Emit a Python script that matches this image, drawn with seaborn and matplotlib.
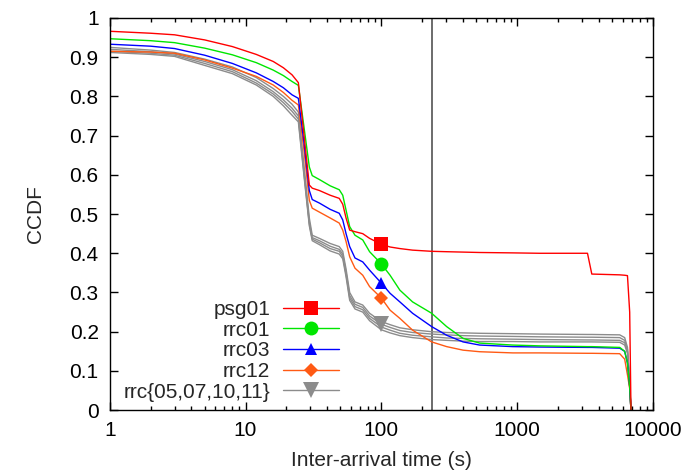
import numpy as np
import pandas as pd
import matplotlib
matplotlib.use("Agg")
import matplotlib.pyplot as plt
from matplotlib.lines import Line2D
import seaborn as sns

# ==========================
# Data
# ==========================
t = [1, 2, 3, 5, 8, 12, 16, 19, 22, 24.5, 27, 29.5, 31, 35, 42, 49, 52, 55,
     58.5, 64, 73, 82, 100, 116, 137, 170, 235, 303, 400, 530, 930, 1460,
     3300, 3550, 5700, 6200, 6500, 6750, 6900]

psg01 = [0.966, 0.961, 0.957, 0.944, 0.927, 0.907, 0.889, 0.873, 0.855, 0.835,
         0.699, 0.574, 0.566, 0.560, 0.548, 0.540, 0.525, 0.490, 0.459, 0.455,
         0.450, 0.438, 0.423, 0.416, 0.412, 0.408, 0.405, 0.404, 0.403, 0.402,
         0.401, 0.400, 0.400, 0.347, 0.345, 0.344, 0.343, 0.250, 0.0]
rrc01 = [0.947, 0.942, 0.937, 0.923, 0.906, 0.886, 0.867, 0.853, 0.838, 0.828,
         0.720, 0.620, 0.598, 0.588, 0.572, 0.562, 0.548, 0.510, 0.468, 0.446,
         0.434, 0.404, 0.373, 0.344, 0.306, 0.276, 0.247, 0.213, 0.183, 0.171,
         0.166, 0.164, 0.162, 0.162, 0.160, 0.150, 0.120, 0.060, 0.0]
rrc03 = [0.933, 0.928, 0.922, 0.905, 0.884, 0.860, 0.838, 0.822, 0.804, 0.795,
         0.680, 0.560, 0.537, 0.528, 0.512, 0.502, 0.485, 0.450, 0.417, 0.388,
         0.378, 0.357, 0.324, 0.298, 0.276, 0.247, 0.213, 0.191, 0.174, 0.166,
         0.162, 0.161, 0.160, 0.160, 0.158, 0.150, 0.120, 0.060, 0.0]
rrc12 = [0.915, 0.913, 0.910, 0.893, 0.872, 0.851, 0.829, 0.810, 0.790, 0.778,
         0.660, 0.535, 0.515, 0.505, 0.490, 0.477, 0.459, 0.430, 0.391, 0.362,
         0.344, 0.315, 0.286, 0.255, 0.234, 0.204, 0.174, 0.162, 0.153, 0.149,
         0.146, 0.146, 0.145, 0.145, 0.144, 0.130, 0.090, 0.055, 0.0]
rrc05 = [0.925, 0.918, 0.912, 0.895, 0.875, 0.848, 0.820, 0.800, 0.780, 0.760,
         0.620, 0.490, 0.446, 0.438, 0.425, 0.417, 0.405, 0.360, 0.300, 0.276,
         0.268, 0.247, 0.226, 0.218, 0.210, 0.205, 0.200, 0.198, 0.197, 0.196,
         0.195, 0.194, 0.193, 0.193, 0.192, 0.185, 0.160, 0.070, 0.0]
rrc07 = [0.920, 0.914, 0.908, 0.889, 0.868, 0.840, 0.812, 0.791, 0.770, 0.750,
         0.610, 0.480, 0.440, 0.432, 0.418, 0.410, 0.398, 0.352, 0.292, 0.270,
         0.262, 0.240, 0.219, 0.211, 0.203, 0.198, 0.194, 0.192, 0.190, 0.189,
         0.188, 0.187, 0.186, 0.186, 0.185, 0.178, 0.155, 0.065, 0.0]
rrc10 = [0.915, 0.910, 0.905, 0.884, 0.863, 0.834, 0.806, 0.784, 0.762, 0.742,
         0.600, 0.475, 0.436, 0.427, 0.412, 0.405, 0.392, 0.346, 0.286, 0.264,
         0.256, 0.234, 0.212, 0.204, 0.196, 0.191, 0.187, 0.184, 0.183, 0.182,
         0.181, 0.180, 0.179, 0.179, 0.178, 0.172, 0.150, 0.060, 0.0]
rrc11 = [0.912, 0.907, 0.902, 0.879, 0.858, 0.829, 0.800, 0.776, 0.752, 0.735,
         0.595, 0.470, 0.432, 0.422, 0.406, 0.398, 0.386, 0.340, 0.280, 0.258,
         0.250, 0.228, 0.205, 0.197, 0.190, 0.185, 0.180, 0.178, 0.176, 0.175,
         0.175, 0.174, 0.174, 0.174, 0.173, 0.166, 0.145, 0.060, 0.0]

marker_time = 100
cutoff_time = 235

x_ticks = [1, 10, 100, 1000, 10000]
x_tick_labels = ["1", "10", "100", "1000", "10000"]
y_ticks = [0, 0.1, 0.2, 0.3, 0.4, 0.5, 0.6, 0.7, 0.8, 0.9, 1]
y_tick_labels = ["0", "0.1", "0.2", "0.3", "0.4", "0.5", "0.6", "0.7", "0.8", "0.9", "1"]

# ==========================
# Style
# ==========================
sns.set_style("ticks")
plt.rcParams["font.family"] = ["Liberation Sans", "DejaVu Sans"]

GRAY = "#8c8c8c"
# name, values, colour, marker, marker size, draw marker at 100 s
series = [
    ("psg01", psg01, "#ff0000", "s", 10, True),
    ("rrc01", rrc01, "#00e600", "o", 10, True),
    ("rrc03", rrc03, "#0000ff", "^", 9, True),
    ("rrc12", rrc12, "#ff5a14", "D", 7, True),
    ("rrc05", rrc05, GRAY, "v", 11, False),
    ("rrc07", rrc07, GRAY, "v", 11, True),
    ("rrc10", rrc10, GRAY, "v", 11, False),
    ("rrc11", rrc11, GRAY, "v", 11, False),
]

fig = plt.figure(figsize=(6.99, 4.72), dpi=100)
ax = fig.add_axes([0.157, 0.131, 0.777, 0.831])

ax.axvline(cutoff_time, color="#444444", lw=1.1, zorder=1)

# draw gray first so colours sit on top
for name, vals, col, mk, ms, show in series[::-1]:
    df = pd.DataFrame({"t": t, "ccdf": vals})
    sns.lineplot(data=df, x="t", y="ccdf", color=col, lw=1.0,
                 estimator=None, legend=False, ax=ax, zorder=2)
    if show:
        row = df[df["t"] == marker_time]
        ax.plot(row["t"], row["ccdf"], linestyle="none", marker=mk,
                markersize=ms, color=col, markeredgewidth=0, zorder=3)

ax.set_xscale("log")
ax.set_xlim(1, 10000)
ax.set_ylim(0, 1)
ax.set_xticks(x_ticks)
ax.set_xticklabels(x_tick_labels)
ax.set_yticks(y_ticks)
ax.set_yticklabels(y_tick_labels)

ax.tick_params(axis="both", which="both", direction="in",
               top=True, right=True, labelsize=15, colors="black")
ax.tick_params(which="major", length=6, width=1, pad=8)
ax.tick_params(which="minor", length=3, width=1)
for s in ax.spines.values():
    s.set_linewidth(1.0)
    s.set_color("black")

ax.set_xlabel("Inter-arrival time (s)", fontsize=15, labelpad=8)
ax.set_ylabel("CCDF", fontsize=15, labelpad=18)

# ==========================
# Legend
# ==========================
legend_items = [(s[0], s[2], s[3], s[4]) for s in series[:4]]
legend_items.append(("rrc{05,07,10,11}", GRAY, "v", 11))
handles = [Line2D([0], [0], color=col, lw=1.0, marker=mk, markersize=ms,
                  markeredgewidth=0)
           for name, col, mk, ms in legend_items]
labels = [item[0] for item in legend_items]

leg = ax.legend(handles, labels, loc="lower right",
                bbox_to_anchor=(0.445, -0.01), frameon=False,
                markerfirst=False, fontsize=15, handlelength=2.7,
                handletextpad=0.6, labelspacing=0.08, numpoints=1,
                borderaxespad=0.2)
for col in leg._legend_handle_box.get_children():
    col.align = "right"

plt.savefig("out.png", dpi=100)
